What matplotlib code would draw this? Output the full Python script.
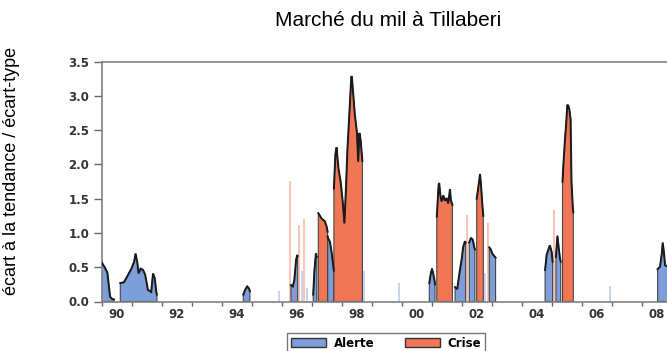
import matplotlib.pyplot as plt
from matplotlib.patches import Patch

# dates en annee decimale, valeurs = ecart a la tendance / ecart-type
alerte_1990a_t = [1990.00, 1990.10, 1990.19, 1990.28, 1990.34, 1990.41]
alerte_1990a_v = [0.57, 0.50, 0.42, 0.07, 0.04, 0.03]
alerte_1990b_t = [1990.62, 1990.74, 1990.88, 1990.99, 1991.08, 1991.13, 1991.19, 1991.23,
                  1991.30, 1991.38, 1991.45, 1991.54, 1991.65, 1991.71, 1991.77, 1991.82, 1991.84]
alerte_1990b_v = [0.27, 0.28, 0.39, 0.48, 0.58, 0.70, 0.56, 0.41,
                  0.48, 0.46, 0.39, 0.17, 0.14, 0.41, 0.34, 0.14, 0.10]
alerte_1994_t = [1994.72, 1994.78, 1994.85, 1994.91, 1994.94]
alerte_1994_v = [0.10, 0.17, 0.22, 0.19, 0.15]
alerte_1996_t = [1996.31, 1996.37, 1996.42, 1996.48, 1996.52, 1996.53]
alerte_1996_v = [0.24, 0.22, 0.31, 0.61, 0.68, 0.66]
alerte_1997a_t = [1997.05, 1997.09, 1997.14, 1997.17]
alerte_1997a_v = [0.10, 0.45, 0.70, 0.65]
alerte_1997b_t = [1997.53, 1997.55, 1997.61, 1997.67, 1997.72, 1997.74]
alerte_1997b_v = [0.95, 0.92, 0.87, 0.70, 0.51, 0.45]
alerte_2000_t = [2000.92, 2000.97, 2001.01, 2001.05, 2001.10, 2001.11]
alerte_2000_v = [0.27, 0.41, 0.48, 0.41, 0.29, 0.25]
alerte_2001_t = [2001.78, 2001.85, 2001.94, 2002.00, 2002.05, 2002.11, 2002.13]
alerte_2001_v = [0.21, 0.18, 0.46, 0.62, 0.80, 0.88, 0.86]
alerte_2002a_t = [2002.25, 2002.31, 2002.37, 2002.42, 2002.44]
alerte_2002a_v = [0.86, 0.93, 0.90, 0.79, 0.76]
alerte_2002b_t = [2002.92, 2002.97, 2003.02, 2003.09, 2003.13]
alerte_2002b_v = [0.79, 0.76, 0.70, 0.66, 0.64]
alerte_2004_t = [2004.78, 2004.83, 2004.89, 2004.94, 2005.00, 2005.03]
alerte_2004_v = [0.46, 0.68, 0.76, 0.82, 0.72, 0.58]
alerte_2005_t = [2005.14, 2005.19, 2005.24, 2005.28, 2005.30]
alerte_2005_v = [0.65, 0.96, 0.76, 0.62, 0.58]
alerte_2008_t = [2008.53, 2008.61, 2008.67, 2008.70, 2008.74, 2008.78, 2008.90]
alerte_2008_v = [0.47, 0.51, 0.70, 0.86, 0.72, 0.53, 0.50]

crise_1997a_t = [1997.22, 1997.33, 1997.44, 1997.50, 1997.53]
crise_1997a_v = [1.29, 1.21, 1.17, 1.09, 1.02]
crise_1997b_t = [1997.74, 1997.79, 1997.83, 1997.89, 1997.97, 1998.04, 1998.09, 1998.14, 1998.19,
                 1998.25, 1998.32, 1998.34, 1998.39, 1998.44, 1998.51, 1998.55, 1998.59, 1998.63,
                 1998.68, 1998.69]
crise_1997b_v = [1.65, 2.15, 2.25, 1.95, 1.73, 1.43, 1.14, 1.63, 2.21,
                 2.70, 3.28, 3.28, 3.00, 2.72, 2.46, 2.04, 2.46, 2.36,
                 2.10, 2.05]
crise_2001_t = [2001.17, 2001.23, 2001.25, 2001.29, 2001.33, 2001.39, 2001.44, 2001.50,
                2001.55, 2001.61, 2001.64, 2001.69]
crise_2001_v = [1.24, 1.70, 1.73, 1.55, 1.46, 1.55, 1.47, 1.51,
                1.43, 1.64, 1.48, 1.41]
crise_2002_t = [2002.50, 2002.58, 2002.61, 2002.64, 2002.69, 2002.72]
crise_2002_v = [1.50, 1.75, 1.86, 1.73, 1.40, 1.25]
crise_2005_t = [2005.36, 2005.39, 2005.44, 2005.48, 2005.52, 2005.55, 2005.59, 2005.63,
                2005.66, 2005.70, 2005.72]
crise_2005_v = [1.75, 2.00, 2.35, 2.58, 2.87, 2.86, 2.80, 2.66,
                1.75, 1.40, 1.30]

# mois isoles
alerte_pics_t = [1995.91, 1996.67, 1996.84, 1998.75, 1999.92, 2002.78, 2006.94]
alerte_pics_v = [0.15, 0.44, 0.19, 0.44, 0.27, 0.41, 0.23]
crise_pics_t = [1996.28, 1996.58, 1996.75, 2002.19, 2002.86, 2005.09]
crise_pics_v = [1.76, 1.11, 1.21, 1.26, 1.15, 1.34]

annees = list(range(1990, 2010))
etiquettes = ['90', '92', '94', '96', '98', '00', '02', '04', '06', '08']
yticks = [0.0, 0.5, 1.0, 1.5, 2.0, 2.5, 3.0, 3.5]

bleu = '#7d9ed8'
rouge = '#f07656'
bleu_clair = '#bccdf0'
rouge_clair = '#f8baa6'

alerte = [(alerte_1990a_t, alerte_1990a_v), (alerte_1990b_t, alerte_1990b_v),
          (alerte_1994_t, alerte_1994_v), (alerte_1996_t, alerte_1996_v),
          (alerte_1997a_t, alerte_1997a_v), (alerte_1997b_t, alerte_1997b_v),
          (alerte_2000_t, alerte_2000_v), (alerte_2001_t, alerte_2001_v),
          (alerte_2002a_t, alerte_2002a_v), (alerte_2002b_t, alerte_2002b_v),
          (alerte_2004_t, alerte_2004_v), (alerte_2005_t, alerte_2005_v),
          (alerte_2008_t, alerte_2008_v)]
crise = [(crise_1997a_t, crise_1997a_v), (crise_1997b_t, crise_1997b_v),
         (crise_2001_t, crise_2001_v), (crise_2002_t, crise_2002_v),
         (crise_2005_t, crise_2005_v)]

fig = plt.figure(figsize=(6.67, 3.51), dpi=100)
ax = fig.add_axes([101.7 / 667, 49.5 / 351, 570 / 667, 239.8 / 351])

ax.vlines(alerte_pics_t, 0, alerte_pics_v, color=bleu_clair, lw=1.2, zorder=1)
ax.vlines(crise_pics_t, 0, crise_pics_v, color=rouge_clair, lw=1.2, zorder=1)


def episode(t, v, couleur):
    xs = [t[0]] + t + [t[-1]]
    ys = [0] + v + [0]
    ax.fill(xs, ys, facecolor=couleur, edgecolor='#444444', lw=0.8, zorder=2)
    ax.plot(t, v, color='#1a1a1a', lw=1.4, zorder=3, solid_joinstyle='miter')


for t, v in alerte:
    episode(t, v, bleu)
for t, v in crise:
    episode(t, v, rouge)

ax.set_xlim(1990, 2009)
ax.set_ylim(0, 3.5)

for s in ['top', 'left', 'bottom']:
    ax.spines[s].set_color('#808080')
    ax.spines[s].set_linewidth(1.2)
ax.spines['right'].set_visible(False)

ax.set_xticks(annees)
ax.set_xticklabels([])
ax.set_xticks([a + 0.5 for a in annees[::2][:len(etiquettes)]], minor=True)
ax.set_xticklabels(etiquettes, minor=True)
ax.tick_params(axis='x', which='major', direction='out', length=3, width=1, color='#666666')
ax.tick_params(axis='x', which='minor', length=0, pad=5)

ax.set_yticks(yticks)
ax.set_yticklabels(['%.1f' % y for y in yticks])
ax.tick_params(axis='y', direction='out', length=6, width=1, color='#666666', pad=3)

for lab in ax.get_xticklabels(minor=True) + ax.get_yticklabels():
    lab.set_fontweight('bold')
    lab.set_fontsize(8.5)
    lab.set_color('#333333')

fig.text(388 / 667, 1 - 21 / 351, 'Marché du mil à Tillaberi', ha='center', va='center',
         fontsize=15, family='Liberation Sans')
fig.text(12 / 667, 1 - 171 / 351, 'écart à la tendance / écart-type', ha='center', va='center',
         rotation=90, fontsize=13, family='Liberation Sans')

handles = [Patch(facecolor=bleu, edgecolor='#333333', lw=1),
           Patch(facecolor=rouge, edgecolor='#333333', lw=1)]
leg = fig.legend(handles, ['Alerte', 'Crise'], loc='upper center',
                 bbox_to_anchor=(386 / 667, 1 - 333 / 351), ncol=2, frameon=True,
                 fancybox=False, edgecolor='#555555', borderpad=0.3, borderaxespad=0,
                 prop=dict(weight='bold', size=8.5), handlelength=3.0, handleheight=0.8,
                 columnspacing=2.6, handletextpad=0.6)
leg.get_frame().set_linewidth(1.0)

fig.savefig('out.png', dpi=100)
